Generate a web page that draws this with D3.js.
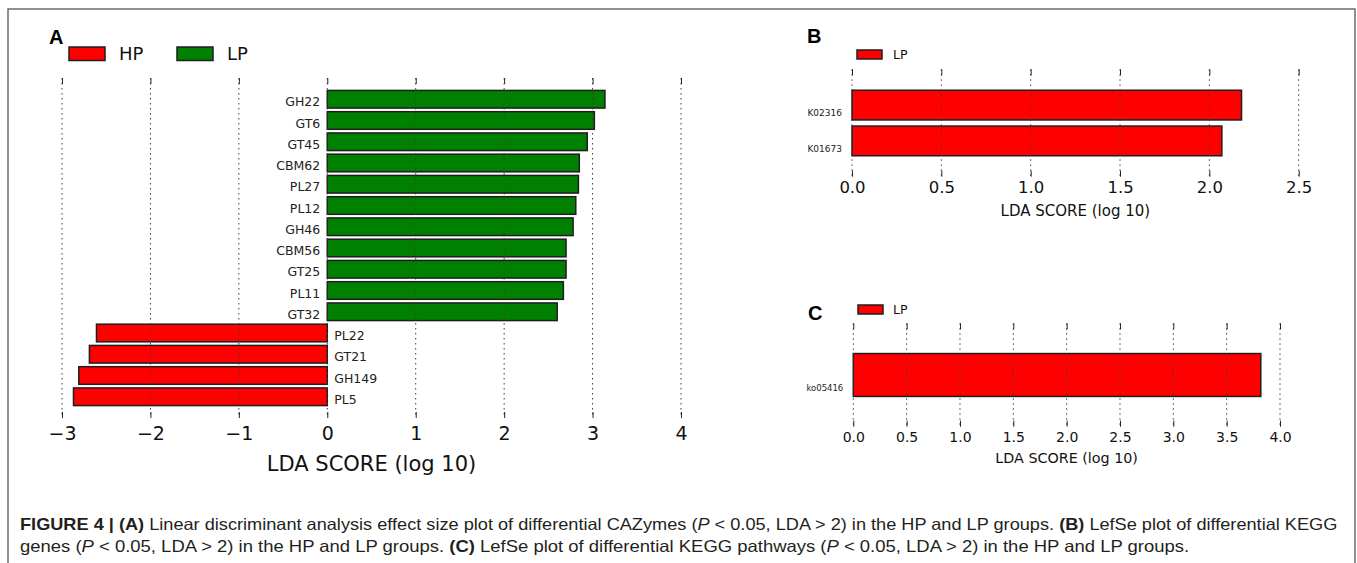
<!DOCTYPE html>
<html>
<head>
<meta charset="utf-8">
<script src="https://cdn.jsdelivr.net/npm/d3@7"></script>
<style>
  html, body { margin: 0; padding: 0; background: #fff; }
  svg { display: block; }
  text { font-family: "DejaVu Sans", sans-serif; }
</style>
</head>
<body>
<div id="figure"></div>
<script>
// ---- data ----
const catA = ["GH22", "GT6", "GT45", "CBM62", "PL27", "PL12", "GH46", "CBM56", "GT25", "PL11", "GT32", "PL22", "GT21", "GH149", "PL5"];
const ldaA = [3.14, 3.02, 2.94, 2.85, 2.84, 2.81, 2.78, 2.70, 2.70, 2.67, 2.60, -2.61, -2.69, -2.81, -2.87];
const groupA = ["LP", "LP", "LP", "LP", "LP", "LP", "LP", "LP", "LP", "LP", "LP", "HP", "HP", "HP", "HP"];
const ticksA = [-3, -2, -1, 0, 1, 2, 3, 4];

const catB = ["K02316", "K01673"];
const ldaB = [2.18, 2.07];
const groupB = ["LP", "LP"];
const ticksB = [0, 0.5, 1.0, 1.5, 2.0, 2.5];

const catC = ["ko05416"];
const ldaC = [3.82];
const groupC = ["LP"];
const ticksC = [0, 0.5, 1.0, 1.5, 2.0, 2.5, 3.0, 3.5, 4.0];

const axisTitle = "LDA SCORE (log 10)";

const W = 1357, H = 563;
const RED = "#ff0000", GREEN = "#008000";

const svg = d3.select('#figure').append('svg')
    .attr('width', W)
    .attr('height', H)
    .attr('viewBox', '0 0 ' + W + ' ' + H);

// frame round the figure
svg.append('path')
    .attr('d', 'M8,563 V9 H1355 V563')
    .attr('fill', 'none')
    .attr('stroke', '#6b6b6b')
    .attr('stroke-width', 1.5);

drawPanel({
    letter: "A", letterPos: [49, 44],
    cats: catA, vals: ldaA, groups: groupA, ticks: ticksA,
    color: { HP: RED, LP: GREEN },
    legend: [{ name: "HP", x: 69 }, { name: "LP", x: 177 }],
    legendBox: { y: 47, w: 36, h: 13.5, gap: 14, font: 18 },
    domain: [-3, 4], xRange: [62, 681], top: 78, bottom: 418,
    fmt: d3.format("d"), tickFont: 19, tickPad: 9,
    titleY: 464, titleFont: 21,
    labelFont: 12.5, labelGap: 7, labelShift: 2.7
});

drawPanel({
    letter: "B", letterPos: [807, 43],
    cats: catB, vals: ldaB, groups: groupB, ticks: ticksB,
    color: { LP: RED },
    legend: [{ name: "LP", x: 857 }],
    legendBox: { y: 50, w: 25, h: 9, gap: 11, font: 12.5 },
    domain: [0, 2.5], xRange: [852, 1298.7], top: 69.3, bottom: 176.7,
    fmt: d3.format(".1f"), tickFont: 16.5, tickPad: 4.5,
    titleY: 211, titleFont: 15,
    labelFont: 9, labelGap: 10, labelShift: 7.7
});

drawPanel({
    letter: "C", letterPos: [808, 320],
    cats: catC, vals: ldaC, groups: groupC, ticks: ticksC,
    color: { LP: RED },
    legend: [{ name: "LP", x: 858 }],
    legendBox: { y: 305, w: 25, h: 9, gap: 10, font: 12.5 },
    domain: [0, 4], xRange: [853.3, 1280], top: 323.3, bottom: 426.7,
    fmt: d3.format(".1f"), tickFont: 14, tickPad: 5,
    titleY: 458, titleFont: 14.3,
    labelFont: 8.5, labelGap: 10, labelShift: 13
});

drawCaption();

function drawPanel(p) {
    const g = svg.append('g');

    const x = d3.scaleLinear().domain(p.domain).range(p.xRange);
    const y = d3.scaleLinear().domain([-1, p.cats.length]).range([p.top, p.bottom]);
    const step = y(1) - y(0);
    const bh = step * 0.83;

    const rows = p.cats.map((c, i) => ({ cat: c, v: p.vals[i], grp: p.groups[i], i: i }));

    // bars
    g.selectAll('rect.bar')
        .data(rows)
        .join('rect')
        .attr('class', 'bar')
        .attr('x', d => x(Math.min(0, d.v)))
        .attr('y', d => y(d.i) - bh / 2)
        .attr('width', d => Math.abs(x(d.v) - x(0)))
        .attr('height', bh)
        .attr('fill', d => p.color[d.grp])
        .attr('stroke', '#1e1e1e')
        .attr('stroke-width', 1.5);

    // dotted grid drawn over the bars, as in the picture
    g.selectAll('line.grid')
        .data(p.ticks)
        .join('line')
        .attr('class', 'grid')
        .attr('x1', d => x(d)).attr('x2', d => x(d))
        .attr('y1', p.top).attr('y2', p.bottom)
        .attr('stroke', '#3c3c3c')
        .attr('stroke-width', 1)
        .attr('stroke-dasharray', '1.5,3.5');

    // inward ticks top and bottom, labels below
    const bottomAxis = d3.axisBottom(x)
        .tickValues(p.ticks)
        .tickFormat(p.fmt)
        .tickSize(-6)
        .tickPadding(p.tickPad);
    const ax = g.append('g')
        .attr('transform', 'translate(0,' + p.bottom + ')')
        .call(bottomAxis);
    ax.select('.domain').remove();
    ax.selectAll('line').attr('stroke', '#222');
    ax.selectAll('text')
        .attr('fill', '#111')
        .style('font-family', '"DejaVu Sans", sans-serif')
        .style('font-size', p.tickFont + 'px');

    const topAxis = g.append('g')
        .attr('transform', 'translate(0,' + p.top + ')')
        .call(d3.axisTop(x).tickValues(p.ticks).tickSize(-6).tickFormat(''));
    topAxis.select('.domain').remove();
    topAxis.selectAll('line').attr('stroke', '#222');

    // axis title
    g.append('text')
        .attr('x', (p.xRange[0] + p.xRange[1]) / 2)
        .attr('y', p.titleY)
        .attr('text-anchor', 'middle')
        .attr('dominant-baseline', 'central')
        .attr('fill', '#111')
        .style('font-size', p.titleFont + 'px')
        .text(axisTitle);

    // category labels, left of zero for positive bars, right of it for negative
    g.selectAll('text.cat')
        .data(rows)
        .join('text')
        .attr('class', 'cat')
        .attr('x', d => d.v >= 0 ? x(0) - p.labelGap : x(0) + p.labelGap)
        .attr('y', d => y(d.i) + p.labelShift)
        .attr('text-anchor', d => d.v >= 0 ? 'end' : 'start')
        .attr('dominant-baseline', 'central')
        .attr('fill', '#222')
        .style('font-size', p.labelFont + 'px')
        .text(d => d.cat);

    // legend
    const lb = p.legendBox;
    const leg = g.selectAll('g.leg')
        .data(p.legend)
        .join('g')
        .attr('class', 'leg');
    leg.append('rect')
        .attr('x', d => d.x)
        .attr('y', lb.y)
        .attr('width', lb.w)
        .attr('height', lb.h)
        .attr('fill', d => p.color[d.name])
        .attr('stroke', '#1e1e1e')
        .attr('stroke-width', 1.5);
    leg.append('text')
        .attr('x', d => d.x + lb.w + lb.gap)
        .attr('y', lb.y + lb.h / 2)
        .attr('dominant-baseline', 'central')
        .attr('fill', '#111')
        .style('font-size', lb.font + 'px')
        .text(d => d.name);

    // panel letter
    svg.append('text')
        .attr('x', p.letterPos[0])
        .attr('y', p.letterPos[1])
        .attr('fill', '#000')
        .style('font-family', '"Liberation Sans", Arial, sans-serif')
        .style('font-weight', 'bold')
        .style('font-size', '20px')
        .text(p.letter);
}

function drawCaption() {
    const lines = [
        { y: 530, width: 1318, parts: [
            { t: "FIGURE 4 | ", b: true }, { t: "(A)", b: true },
            { t: " Linear discriminant analysis effect size plot of differential CAZymes (" },
            { t: "P", i: true },
            { t: " < 0.05, LDA > 2) in the HP and LP groups. " },
            { t: "(B)", b: true },
            { t: " LefSe plot of differential KEGG" }
        ] },
        { y: 552, width: 1170, parts: [
            { t: "genes (" }, { t: "P", i: true },
            { t: " < 0.05, LDA > 2) in the HP and LP groups. " },
            { t: "(C)", b: true },
            { t: " LefSe plot of differential KEGG pathways (" },
            { t: "P", i: true },
            { t: " < 0.05, LDA > 2) in the HP and LP groups." }
        ] }
    ];

    lines.forEach(function (ln) {
        const t = svg.append('text')
            .attr('x', 0)
            .attr('y', 0)
            .attr('fill', '#231f20')
            .style('white-space', 'pre')
            .style('font-family', '"Liberation Sans Narrow", "Arial Narrow", "Liberation Sans", sans-serif')
            .style('font-size', '16.5px');
        ln.parts.forEach(function (pt) {
            t.append('tspan')
                .style('font-weight', pt.b ? 'bold' : null)
                .style('font-style', pt.i ? 'italic' : null)
                .text(pt.t);
        });
        // squeeze each line to the width it has in the figure
        const k = ln.width / t.node().getComputedTextLength();
        t.attr('transform', 'translate(20,' + ln.y + ') scale(' + k + ',1)');
    });
}
</script>
</body>
</html>
